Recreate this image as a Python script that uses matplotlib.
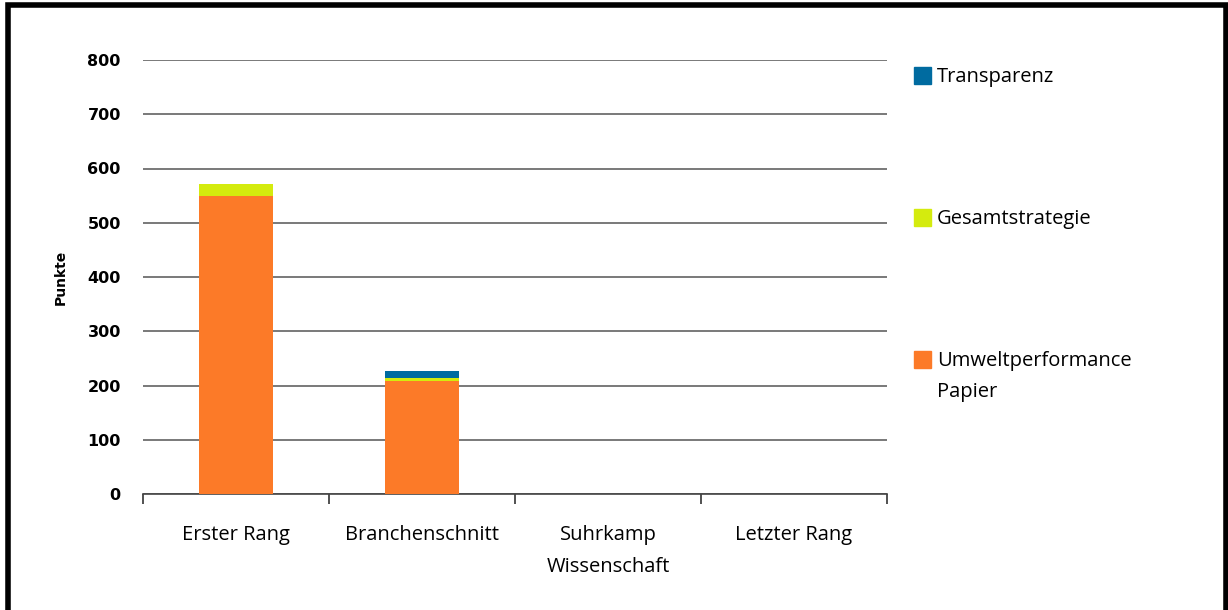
import matplotlib.pyplot as plt
from matplotlib.patches import Rectangle
import numpy as np

categories = ['Erster Rang', 'Branchenschnitt', 'Suhrkamp\nWissenschaft', 'Letzter Rang']
umwelt = [549, 208, 0, 0]
gesamt = [22, 6, 0, 0]
transparenz = [0, 13, 0, 0]

series = [('Umweltperformance\nPapier', umwelt, '#FC7A28'),
          ('Gesamtstrategie', gesamt, '#D4EB0E'),
          ('Transparenz', transparenz, '#006BA0')]

cat_font = ['Open Sans', 'DejaVu Sans']

fig = plt.figure(figsize=(12.28, 6.10), dpi=100)
ax = fig.add_axes([143 / 1228, 1 - 494 / 610, 744 / 1228, 434 / 610])

x = np.arange(len(categories))
bottom = np.zeros(len(categories))
for label, vals, color in series:
    ax.bar(x, vals, width=0.4, bottom=bottom, color=color, zorder=3)
    bottom += np.array(vals)

ax.set_xlim(-0.5, 3.5)
ax.set_ylim(0, 800)
ax.set_yticks(range(0, 801, 100))
ax.yaxis.grid(True, color='#555555', linewidth=1.1, zorder=0)
ax.tick_params(axis='y', length=0, pad=16)
for t in ax.get_yticklabels():
    t.set_fontweight('bold')
    t.set_fontsize(11.5)
    t.set_family('DejaVu Sans')

ax.set_xticks(x)
ax.set_xticklabels(categories, fontsize=14.5, family=cat_font, linespacing=1.85)
ax.set_xticks(np.arange(-0.5, 4, 1), minor=True)
ax.tick_params(axis='x', which='major', length=0, pad=22)
ax.tick_params(axis='x', which='minor', length=7, color='#333333', width=1.2)

for s in ['top', 'right', 'left']:
    ax.spines[s].set_visible(False)
ax.spines['bottom'].set_color('#444444')
ax.spines['bottom'].set_linewidth(1.2)

ax.set_ylabel('Punkte', fontsize=10, fontweight='bold', labelpad=14)

# legend drawn by hand, top to bottom
legend_y = [75, 217, 359]
for (label, vals, color), yc in zip(series[::-1], legend_y):
    fig.add_artist(Rectangle((914 / 1228, 1 - (yc + 8.5) / 610), 17 / 1228, 17 / 610,
                             transform=fig.transFigure, color=color))
    fig.text(937 / 1228, 1 - (yc - 8) / 610, label, fontsize=14.5, family=cat_font,
             va='top', ha='left', linespacing=1.75)

# outer frame (no bottom edge)
fig.add_artist(plt.Line2D([7.5 / 1228, 7.5 / 1228, 1225.5 / 1228, 1225.5 / 1228],
                          [0, 1 - 5 / 610, 1 - 5 / 610, 0],
                          transform=fig.transFigure, color='black', linewidth=4,
                          solid_joinstyle='miter'))

fig.savefig('out.png', dpi=100)
